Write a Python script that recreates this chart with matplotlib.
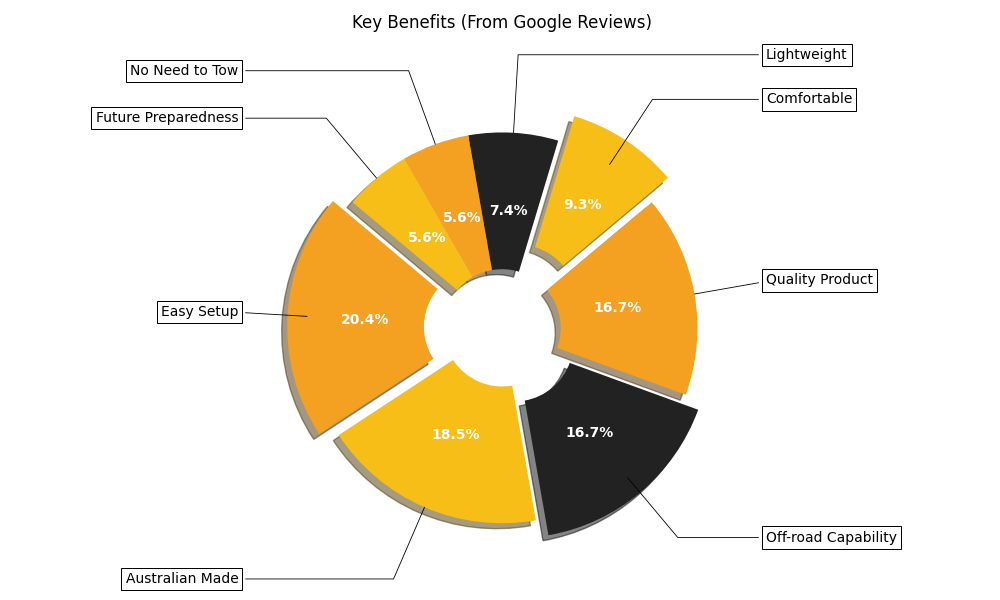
import matplotlib
matplotlib.use("Agg")
import matplotlib.pyplot as plt
import numpy as np

# counterclockwise from the start angle
labels = ["Lightweight", "No Need to Tow", "Future Preparedness", "Easy Setup",
          "Australian Made", "Off-road Capability", "Quality Product", "Comfortable"]
counts = [4, 3, 3, 11, 10, 9, 9, 5]
explode = [0, 0, 0, 0.1, 0, 0.1, 0, 0.15]

black = "#222222"
yellow = "#F6BE17"
orange = "#F4A020"
colors = [black, orange, yellow, orange, yellow, black, orange, yellow]

fig = plt.figure(figsize=(10, 6), dpi=100)
ax = fig.add_axes([0.2578, 0.0465, 0.4885, 0.8142])

wedges, texts, autotexts = ax.pie(
    counts, explode=explode, colors=colors, startangle=73.3,
    autopct="%1.1f%%", pctdistance=0.6, shadow=True,
    wedgeprops=dict(width=0.7),
    textprops=dict(color="w", weight="bold", fontsize=10))

bbox_props = dict(boxstyle="square,pad=0.3", fc="w", ec="k", lw=0.72)
kw = dict(arrowprops=dict(arrowstyle="-", lw=0.6, color="k", shrinkB=0),
          bbox=bbox_props, va="center", fontsize=10)

for i, p in enumerate(wedges):
    ang = (p.theta2 - p.theta1) / 2. + p.theta1
    y = np.sin(np.deg2rad(ang))
    x = np.cos(np.deg2rad(ang))
    ha = {-1: "right", 1: "left"}[int(np.sign(x))]
    conn = f"angle,angleA=0,angleB={ang}"
    kw["arrowprops"].update({"connectionstyle": conn})
    ax.annotate(labels[i], xy=(x, y), xytext=(1.35 * np.sign(x), 1.4 * y),
                horizontalalignment=ha, **kw)

ax.set_aspect("equal")
ax.set_title("Key Benefits (From Google Reviews)", fontsize=12, pad=40)

fig.savefig("out.png")
